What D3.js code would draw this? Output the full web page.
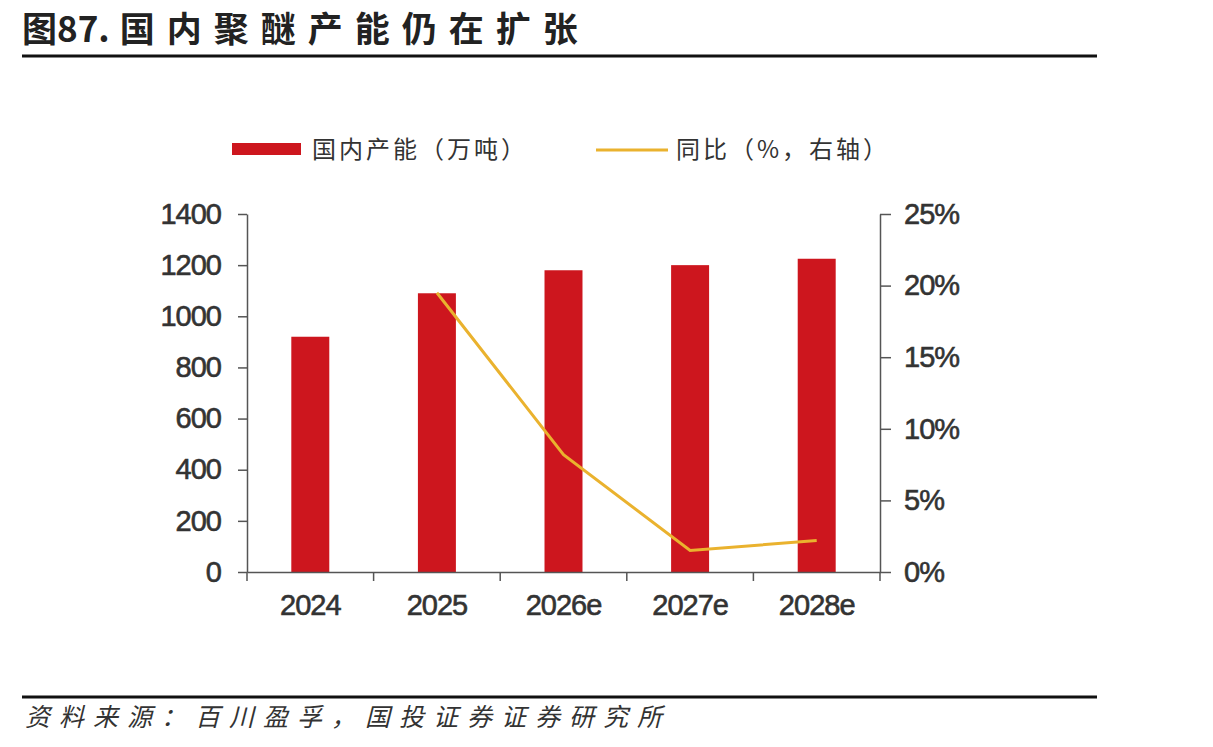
<!DOCTYPE html>
<html>
<head>
<meta charset="utf-8">
<script src="https://cdn.jsdelivr.net/npm/d3@7"></script>
<style>
  body { margin: 0; background: #fff; }
  text { font-family: "Liberation Sans", Arial, sans-serif; }
  .cn { font-family: "Noto Sans CJK SC", sans-serif; }
</style>
</head>
<body>
<script>
var categories = ["2024", "2025", "2026e", "2027e", "2028e"];
var capacity = [920, 1090, 1180, 1200, 1225];      // 万吨
var yoy = [null, 19.5, 8.2, 1.5, 2.2];             // %
var leftTicks = [0, 200, 400, 600, 800, 1000, 1200, 1400];
var rightTicks = [0, 5, 10, 15, 20, 25];

var width = 1213, height = 747;
var plot = {left: 247, right: 880, top: 214, bottom: 572};

var svg = d3.select("body").append("svg")
    .attr("width", width)
    .attr("height", height);

// title
var title = svg.append("text")
    .attr("class", "cn")
    .attr("x", 22)
    .attr("y", 42)
    .attr("font-size", 35)
    .attr("font-weight", 700)
    .attr("fill", "#222");
title.append("tspan").text("图87.");
title.append("tspan").attr("dx", 10).attr("letter-spacing", 12).text("国内聚醚产能仍在扩张");

svg.append("line")
    .attr("x1", 22).attr("x2", 1097)
    .attr("y1", 56).attr("y2", 56)
    .attr("stroke", "#111").attr("stroke-width", 3);

svg.append("line")
    .attr("x1", 22).attr("x2", 1097)
    .attr("y1", 697).attr("y2", 697)
    .attr("stroke", "#111").attr("stroke-width", 3);

svg.append("text")
    .attr("class", "cn")
    .attr("x", 25)
    .attr("y", 726)
    .attr("font-size", 25)
    .attr("font-style", "italic")
    .attr("letter-spacing", 9)
    .attr("fill", "#333")
    .text("资料来源：百川盈孚，国投证券证券研究所");

// scales
var xScale = d3.scaleBand()
    .domain(categories)
    .range([plot.left, plot.right])
    .padding(0);

var yLeft = d3.scaleLinear()
    .domain([0, 1400])
    .range([plot.bottom, plot.top]);

var yRight = d3.scaleLinear()
    .domain([0, 25])
    .range([plot.bottom, plot.top]);

var barW = xScale.bandwidth() * 0.3;

// bars
svg.selectAll("rect.bar")
    .data(categories)
    .enter()
    .append("rect")
        .attr("class", "bar")
        .attr("x", function(d){ return xScale(d) + xScale.bandwidth()/2 - barW/2; })
        .attr("y", function(d, i){ return yLeft(capacity[i]); })
        .attr("width", barW)
        .attr("height", function(d, i){ return plot.bottom - yLeft(capacity[i]); })
        .attr("fill", "#CD161E");

// line
var lineData = categories.map(function(d, i){ return {c: d, v: yoy[i]}; })
    .filter(function(d){ return d.v !== null; });

var line = d3.line()
    .x(function(d){ return xScale(d.c) + xScale.bandwidth()/2; })
    .y(function(d){ return yRight(d.v); });

svg.append("path")
    .datum(lineData)
    .attr("d", line)
    .attr("fill", "none")
    .attr("stroke", "#EAB22E")
    .attr("stroke-width", 3);

// axes
var axisColor = "#555";
var tickFont = 29;

var leftAxis = svg.append("g")
    .attr("transform", "translate(" + plot.left + ",0)")
    .call(d3.axisLeft(yLeft).tickValues(leftTicks).tickSize(9).tickSizeOuter(0).tickPadding(17)
        .tickFormat(d3.format("d")));

var rightAxis = svg.append("g")
    .attr("transform", "translate(" + plot.right + ",0)")
    .call(d3.axisRight(yRight).tickValues(rightTicks).tickSize(11).tickSizeOuter(0).tickPadding(13)
        .tickFormat(function(d){ return d + "%"; }));

var bottomAxis = svg.append("g")
    .attr("transform", "translate(0," + plot.bottom + ")")
    .call(d3.axisBottom(xScale).tickSize(0).tickSizeOuter(0).tickPadding(22));

// band boundary ticks on x axis
var bounds = categories.map(function(d){ return xScale(d); }).concat([plot.right]);
bottomAxis.selectAll("line.bound")
    .data(bounds)
    .enter()
    .append("line")
        .attr("class", "bound")
        .attr("x1", function(d){ return d; })
        .attr("x2", function(d){ return d; })
        .attr("y1", 0).attr("y2", 9)
        .attr("stroke", axisColor)
        .attr("stroke-width", 1.5);

[leftAxis, rightAxis, bottomAxis].forEach(function(g){
    g.select(".domain").attr("stroke", axisColor).attr("stroke-width", 1.5);
    g.selectAll(".tick line").attr("stroke", axisColor).attr("stroke-width", 1.5);
    g.selectAll(".tick text")
        .attr("font-family", "'Liberation Sans', Arial, sans-serif")
        .attr("font-size", tickFont)
        .attr("letter-spacing", -1)
        .attr("fill", "#333")
        .attr("stroke", "#333")
        .attr("stroke-width", 0.6);
});

// legend
var legend = svg.append("g");
legend.append("rect")
    .attr("x", 232).attr("y", 143)
    .attr("width", 69).attr("height", 12)
    .attr("fill", "#CD161E");
legend.append("text")
    .attr("class", "cn")
    .attr("x", 312).attr("y", 158)
    .attr("font-size", 24)
    .attr("letter-spacing", 3)
    .attr("fill", "#333")
    .text("国内产能（万吨）");
legend.append("line")
    .attr("x1", 596).attr("x2", 668)
    .attr("y1", 150).attr("y2", 150)
    .attr("stroke", "#EAB22E").attr("stroke-width", 3);
legend.append("text")
    .attr("class", "cn")
    .attr("x", 676).attr("y", 158)
    .attr("font-size", 24)
    .attr("letter-spacing", 3)
    .attr("fill", "#333")
    .text("同比（%，右轴）");
</script>
</body>
</html>
